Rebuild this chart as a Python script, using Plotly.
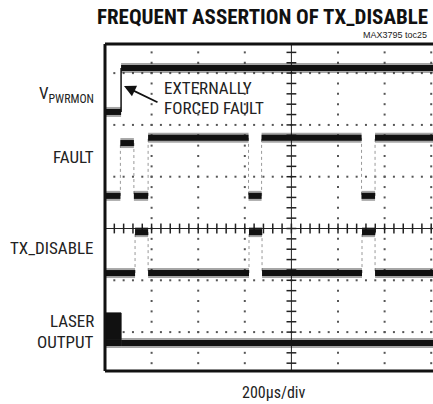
import numpy as np
import plotly.graph_objects as go

# ---------------- data (time in µs, 200 µs/div; amplitude in screen divisions) ----------------
t_end = 1408

vpwr_edges = [69]
vpwr_levels = [2.25, 3.10]

fault_edges = [66, 124, 185, 616, 672, 1101, 1159]
fault_levels = [0.63, 1.65, 0.63, 1.75, 0.63, 1.75, 0.63, 1.75]

tx_edges = [129, 185, 618, 674, 1103, 1159]
tx_levels = [-0.86, -0.07, -0.86, -0.07, -0.86, -0.07, -0.86]

laser_edges = [69]
laser_levels = [-1.89, -2.21]
laser_on_top = -1.63
laser_on_bottom = -2.15

channel_names = ["V<sub>PWRMON</sub>", "FAULT", "TX_DISABLE", "LASER", "OUTPUT"]
title_text = "FREQUENT ASSERTION OF TX_DISABLE"
ref_text = "MAX3795 toc25"
note_lines = ["EXTERNALLY", "FORCED FAULT"]
timebase_text = "200µs/div"

# ---------------- layout geometry ----------------
W, H = 433, 404
L, R, T, B = 105, 0, 44, 33
PW = W - L - R
PH = H - T - B
Y_RANGE = [-2.751, 3.562]

def px(x):
    return (x - L) / PW

def py(y):
    return (H - B - y) / PH

FONT_N = "Roboto Condensed, Liberation Sans Narrow, Roboto, sans-serif"
FONT_R = "Liberation Sans, Arial, sans-serif"

fig = go.Figure()

# ---------------- graticule ----------------
gx, gy = [], []
for tv in [200, 400, 600, 1000, 1200, 1400]:
    for yv in np.arange(-2.6, 3.5, 0.2):
        gx.append(tv); gy.append(yv)
for yv in [-2, -1, 1, 2, 3]:
    for tv in np.arange(0, 1408, 40):
        gx.append(tv); gy.append(yv)
fig.add_trace(go.Scatter(x=gx, y=gy, mode="markers",
                         marker=dict(symbol="square", size=2, color="#555"),
                         hoverinfo="skip", showlegend=False))

fig.add_trace(go.Scatter(x=[800, 800], y=Y_RANGE, mode="lines",
                         line=dict(color="#222", width=1), hoverinfo="skip", showlegend=False))
fig.add_trace(go.Scatter(x=[0, t_end], y=[0, 0], mode="lines",
                         line=dict(color="#222", width=1), hoverinfo="skip", showlegend=False))
ty = np.arange(-2.6, 3.5, 0.2)
fig.add_trace(go.Scatter(x=[800] * len(ty), y=ty, mode="markers",
                         marker=dict(symbol="line-ew", size=7, line=dict(color="#222", width=1.5)),
                         hoverinfo="skip", showlegend=False))
tx_ = np.arange(0, 1408, 40)
fig.add_trace(go.Scatter(x=tx_, y=[0] * len(tx_), mode="markers",
                         marker=dict(symbol="line-ns", size=7, line=dict(color="#222", width=1.5)),
                         hoverinfo="skip", showlegend=False))

# ---------------- traces ----------------
def add_channel(edges, levels, edge_style="dot"):
    bounds = [0] + list(edges) + [t_end]
    xs, ys = [], []
    for i, lv in enumerate(levels):
        xs += [bounds[i], bounds[i + 1], None]
        ys += [lv, lv, None]
    ex, ey = [], []
    for i, e in enumerate(edges):
        ex += [e, e, None]
        ey += [levels[i], levels[i + 1], None]
    if edge_style == "solid":
        eline = dict(color="#111", width=1.5)
    else:
        eline = dict(color="#999", width=1, dash="dot")
    fig.add_trace(go.Scatter(x=ex, y=ey, mode="lines", line=eline,
                             hoverinfo="skip", showlegend=False))
    fig.add_trace(go.Scatter(x=xs, y=ys, mode="lines",
                             line=dict(color="rgba(0,0,0,0.35)", width=10),
                             hoverinfo="skip", showlegend=False))
    fig.add_trace(go.Scatter(x=xs, y=ys, mode="lines",
                             line=dict(color="#111", width=6),
                             hoverinfo="skip", showlegend=False))

add_channel(vpwr_edges, vpwr_levels, "solid")
add_channel(fault_edges, fault_levels)
add_channel(tx_edges, tx_levels)
add_channel(laser_edges[:], [laser_levels[1], laser_levels[1]])

# laser modulated band while on
fig.add_trace(go.Scatter(x=[0, laser_edges[0], laser_edges[0], 0, 0],
                         y=[laser_on_top, laser_on_top, laser_on_bottom, laser_on_bottom, laser_on_top],
                         mode="lines", fill="toself", fillcolor="#111",
                         line=dict(color="#111", width=1), hoverinfo="skip", showlegend=False))

# ---------------- frame ----------------
for (x0, y0, x1, y1) in [(0, 0, 0, 1), (0, 1, 1.02, 1), (0, 0, 1.02, 0)]:
    fig.add_shape(type="line", xref="paper", yref="paper", x0=x0, y0=y0, x1=x1, y1=y1,
                  line=dict(color="#111", width=3), layer="above")

# ---------------- text ----------------
ann = []
ann.append(dict(text="<b>" + title_text + "</b>", x=px(430), y=py(16.5), xanchor="right", yanchor="middle",
                font=dict(family=FONT_N, size=21, color="#111")))
ann.append(dict(text=ref_text, x=px(429), y=py(35), xanchor="right", yanchor="middle",
                font=dict(family=FONT_R, size=9, color="#222")))
label_y = [94, 157, 248, 321, 342]
for name, yy in zip(channel_names, label_y):
    ann.append(dict(text=name, x=px(96), y=py(yy), xanchor="right", yanchor="middle",
                    font=dict(family=FONT_N, size=17, color="#222")))
for line, yy in zip(note_lines, [88, 108]):
    ann.append(dict(text=line, x=px(162), y=py(yy), xanchor="left", yanchor="middle",
                    font=dict(family=FONT_N, size=17, color="#222")))
ann.append(dict(text=timebase_text, x=px(273.5), y=py(392), xanchor="center", yanchor="middle",
                font=dict(family=FONT_N, size=16, color="#222")))
for a in ann:
    a.update(xref="paper", yref="paper", showarrow=False)
ann.append(dict(text="", xref="paper", yref="paper", x=px(124), y=py(86),
                showarrow=True, ax=35, ay=17, arrowhead=2, arrowsize=1.3, arrowwidth=1.8,
                arrowcolor="#111"))

fig.update_layout(
    width=W, height=H, margin=dict(l=L, r=R, t=T, b=B, autoexpand=False),
    paper_bgcolor="white", plot_bgcolor="white",
    xaxis=dict(range=[0, 1407.7], showgrid=False, zeroline=False, showticklabels=False,
               ticks="", fixedrange=True),
    yaxis=dict(range=Y_RANGE, showgrid=False, zeroline=False, showticklabels=False,
               ticks="", fixedrange=True),
    annotations=ann, showlegend=False,
)

fig.write_html("out.html", config={"displayModeBar": False},
               post_script="document.body.style.margin='0';document.body.style.overflow='hidden';")
